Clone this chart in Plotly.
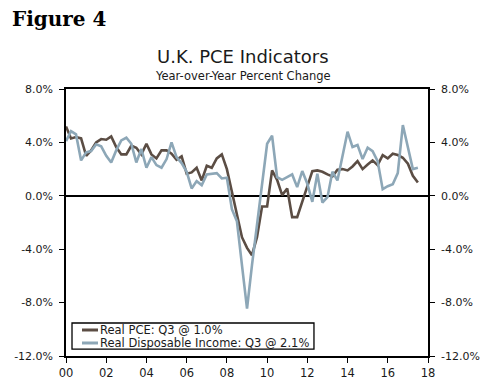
import plotly.graph_objects as go
import pandas as pd

# Quarterly observations, 2000 Q1 .. 2017 Q3
quarters = pd.period_range("2000Q1", "2017Q3", freq="Q").start_time

pce_name = "Real PCE: Q3 @ 1.0%"
rdi_name = "Real Disposable Income: Q3 @ 2.1%"

real_pce = [
    5.2, 4.3, 4.4, 4.3, 3.0, 3.4, 4.0, 4.25, 4.2, 4.45,
    3.65, 3.1, 3.1, 3.75, 3.6, 3.1, 3.9, 3.1, 2.8, 3.4,
    3.4, 3.15, 2.7, 2.95, 1.65, 1.75, 2.1, 1.15, 2.25, 2.1,
    2.8, 3.1, 2.0, 0.3, -1.6, -3.1, -3.9, -4.45, -3.1, -0.8,
    -0.8, 1.9, 1.2, 0.05, 0.55, -1.6, -1.6, -0.4, 0.8, 1.85,
    1.9, 1.8, 1.6, 1.45, 1.95, 2.0, 1.9, 2.2, 2.6, 2.0,
    2.35, 2.65, 2.3, 3.05, 2.8, 3.15, 3.05, 2.85, 2.4, 1.5,
    1.0,
]

real_rdi = [
    4.1, 4.85, 4.6, 2.65, 3.25, 3.35, 3.85, 3.7, 3.0, 2.5,
    3.4, 4.15, 4.35, 3.9, 2.5, 3.5, 2.1, 2.9, 2.3, 2.1,
    2.75, 4.0, 2.9, 2.45, 1.8, 0.55, 1.1, 0.8, 1.6, 1.65,
    1.7, 1.3, 1.35, -1.0, -1.9, -5.2, -8.45, -5.2, -2.3, 0.9,
    3.9, 4.5, 1.4, 1.2, 1.4, 1.6, 0.65, 1.85, 0.9, -0.45,
    1.65, -0.5, -0.1, 1.8, 1.15, 2.95, 4.8, 3.65, 3.8, 2.75,
    3.6, 3.35, 2.6, 0.5, 0.72, 0.87, 1.7, 5.3, 3.55, 2.0,
    2.1,
]

y_ticks = [-12, -8, -4, 0, 4, 8]
y_ticktext = ["-12.0%", "-8.0%", "-4.0%", "0.0%", "4.0%", "8.0%"]

PCE_COLOR = "#5b4d44"
RDI_COLOR = "#8da7b7"
FONT = "DejaVu Sans"
TXT = "#1a1a1a"

fig = go.Figure()
fig.add_trace(go.Scatter(x=quarters, y=real_pce, mode="lines", name=pce_name,
                         line=dict(color=PCE_COLOR, width=2.6), showlegend=False))
fig.add_trace(go.Scatter(x=quarters, y=real_rdi, mode="lines", name=rdi_name,
                         line=dict(color=RDI_COLOR, width=2.6), showlegend=False,
                         yaxis="y2"))

axis_common = dict(range=[-12, 8], tickvals=y_ticks, ticktext=y_ticktext,
                   showgrid=False, ticks="outside", ticklen=5, tickwidth=1.3,
                   tickcolor="black", showline=True, linecolor="black", linewidth=1.5,
                   tickfont=dict(family=FONT, size=11, color=TXT),
                   ticklabelstandoff=4, automargin=False)

fig.update_layout(
    width=489, height=380,
    margin=dict(l=66, r=61, t=89, b=24, autoexpand=False),
    paper_bgcolor="white", plot_bgcolor="white",
    showlegend=False,
    xaxis=dict(type="date", range=["2000-01-01", "2018-01-01"],
               tick0="2000-01-01", dtick="M24", tickformat="%y",
               showgrid=False, ticks="outside", ticklen=5, tickwidth=1.3,
               tickcolor="black", showline=True, linecolor="black", linewidth=1.5,
               mirror=True, automargin=False,
               tickfont=dict(family=FONT, size=11.5, color=TXT)),
    yaxis=dict(**axis_common, side="left", zeroline=True, zerolinecolor="black",
               zerolinewidth=1.5),
    yaxis2=dict(**axis_common, side="right", overlaying="y", matches="y",
                zeroline=False),
    annotations=[
        dict(text="<b>Figure 4</b>", xref="paper", yref="paper", x=-0.155, y=1.262,
             xanchor="left", yanchor="middle", showarrow=False,
             font=dict(family="DejaVu Serif", size=20, color="black")),
        dict(text="U.K. PCE Indicators", xref="paper", yref="paper", x=0.49, y=1.12,
             xanchor="center", yanchor="middle", showarrow=False,
             font=dict(family=FONT, size=18, color=TXT)),
        dict(text="Year-over-Year Percent Change", xref="paper", yref="paper", x=0.49,
             y=1.05, xanchor="center", yanchor="middle", showarrow=False,
             font=dict(family=FONT, size=11.5, color=TXT)),
        dict(text=pce_name, xref="paper", yref="paper", x=0.0884, y=0.0974,
             xanchor="left", yanchor="middle", showarrow=False,
             font=dict(family=FONT, size=11.5, color=TXT)),
        dict(text=rdi_name, xref="paper", yref="paper", x=0.0884, y=0.0487,
             xanchor="left", yanchor="middle", showarrow=False,
             font=dict(family=FONT, size=11.5, color=TXT)),
    ],
    shapes=[
        dict(type="rect", xref="paper", yref="paper", x0=0.0166, x1=0.685,
             y0=0.026, y1=0.1236, line=dict(color="black", width=1.3),
             fillcolor="white", layer="above"),
        dict(type="line", xref="paper", yref="paper", x0=0.0442, x1=0.0884,
             y0=0.0974, y1=0.0974, line=dict(color=PCE_COLOR, width=3), layer="above"),
        dict(type="line", xref="paper", yref="paper", x0=0.0442, x1=0.0884,
             y0=0.0487, y1=0.0487, line=dict(color=RDI_COLOR, width=3), layer="above"),
    ],
)

fig.write_html("out.html",
               config={"displayModeBar": False},
               post_script="document.body.style.margin='0';document.body.style.padding='0';")
